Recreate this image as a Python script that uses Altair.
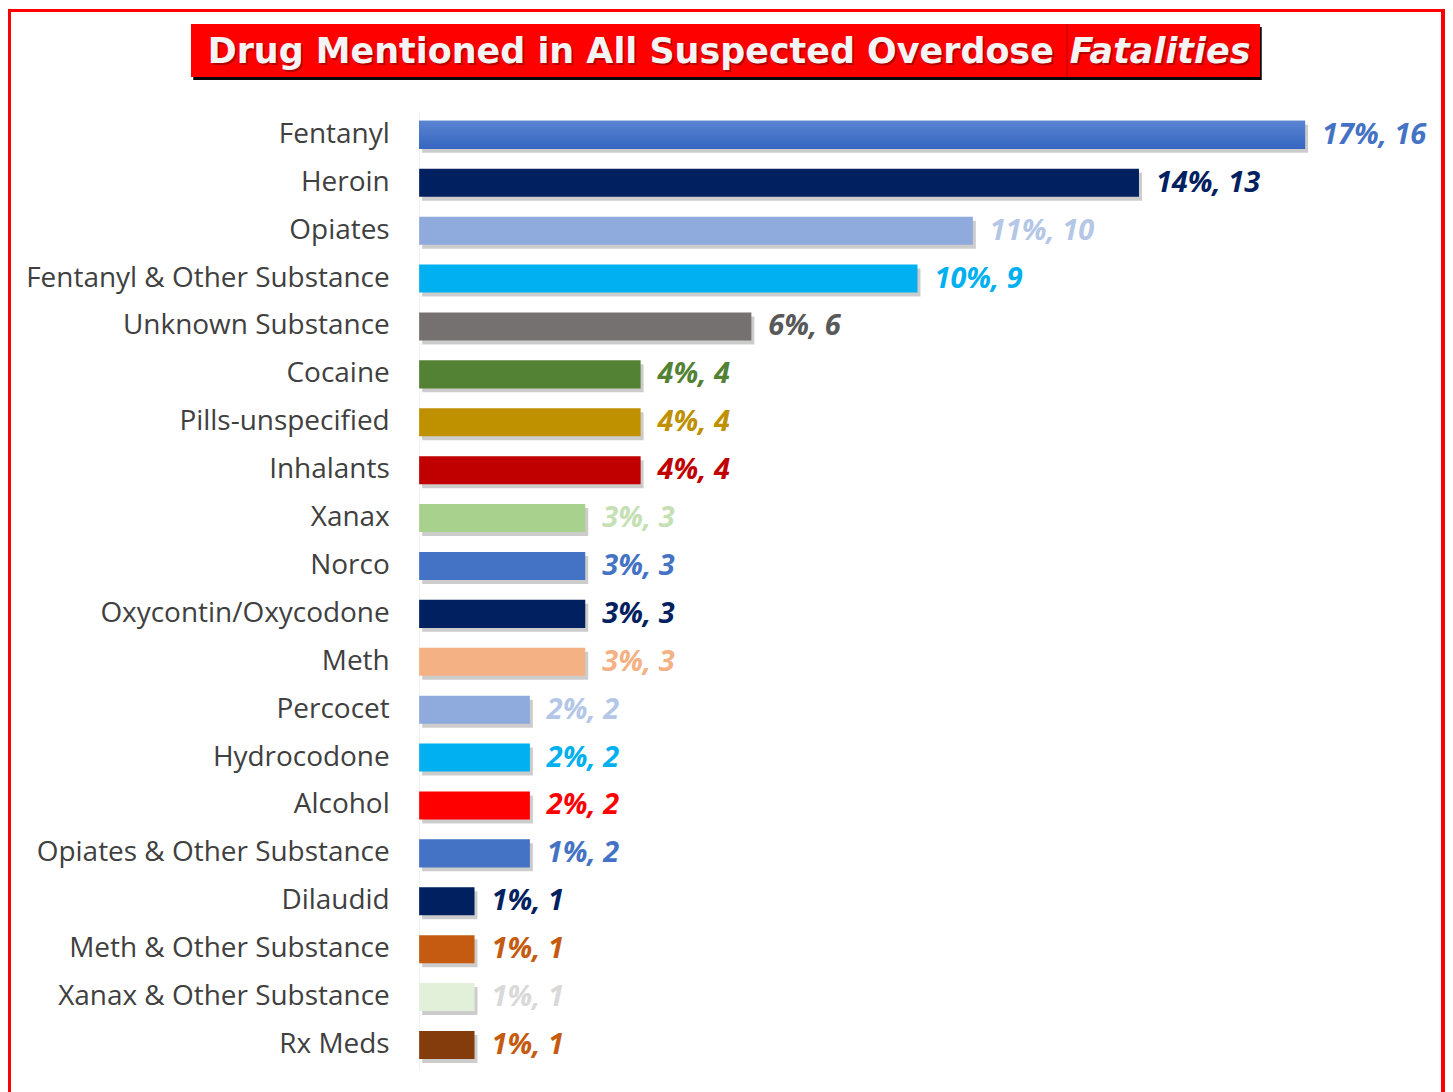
import altair as alt
import pandas as pd

categories = [
    "Fentanyl", "Heroin", "Opiates", "Fentanyl & Other Substance", "Unknown Substance",
    "Cocaine", "Pills-unspecified", "Inhalants", "Xanax", "Norco",
    "Oxycontin/Oxycodone", "Meth", "Percocet", "Hydrocodone", "Alcohol",
    "Opiates & Other Substance", "Dilaudid", "Meth & Other Substance",
    "Xanax & Other Substance", "Rx Meds",
]
counts = [16, 13, 10, 9, 6, 4, 4, 4, 3, 3, 3, 3, 2, 2, 2, 2, 1, 1, 1, 1]
percents = ["17%", "14%", "11%", "10%", "6%", "4%", "4%", "4%", "3%", "3%",
            "3%", "3%", "2%", "2%", "2%", "1%", "1%", "1%", "1%", "1%"]
bar_colors = [
    "#4472C4", "#002060", "#8FAADC", "#00B0F0", "#767171",
    "#548235", "#BF9000", "#C00000", "#A9D18E", "#4472C4",
    "#002060", "#F4B183", "#8FAADC", "#00B0F0", "#FF0000",
    "#4472C4", "#002060", "#C55A11", "#E2F0D9", "#843C0C",
]
label_colors = [
    "#4472C4", "#002060", "#B4C7E7", "#00B0F0", "#595959",
    "#548235", "#BF9000", "#C00000", "#C5E0B4", "#4472C4",
    "#002060", "#F4B183", "#B4C7E7", "#00B0F0", "#FF0000",
    "#4472C4", "#002060", "#C55A11", "#D9D9D9", "#C55A11",
]
title_main = "Drug Mentioned in All Suspected Overdose"
title_italic = "Fatalities"

df = pd.DataFrame({
    "cat": categories,
    "n": counts,
    "pct": percents,
    "barc": bar_colors,
    "labc": label_colors,
})
df["label"] = df["pct"] + ", " + df["n"].astype(str)

PL, PT = 412, 102          # padding: plot origin inside the svg
W, H = 996, 960
xs = alt.Scale(domain=[0, 17.95], nice=False)
ys = alt.Scale(domain=categories, paddingInner=0.415, paddingOuter=0.2075)

base = alt.Chart(df)

y_enc = alt.Y(
    "cat:N", sort=categories, scale=ys, title=None,
    axis=alt.Axis(
        labelFont="Open Sans", labelFontSize=28, labelColor="#404040",
        labelPadding=30, ticks=False, domain=True, domainColor="#F0F0F0",
        domainWidth=1, labelLimit=440,
    ),
)

shadow = base.mark_bar(color="#000000", opacity=0.2, xOffset=3, yOffset=4).encode(
    x=alt.X("n:Q", scale=xs, axis=None), y=y_enc
)
bars = base.mark_bar().encode(
    x=alt.X("n:Q", scale=xs, axis=None),
    y=y_enc,
    color=alt.Color("barc:N", scale=None),
)
grad_bar = base.transform_filter(alt.datum.cat == categories[0]).mark_bar(
    color=alt.Gradient(
        gradient="linear", x1=0, x2=0, y1=0, y2=1,
        stops=[alt.GradientStop(color="#5B84D2", offset=0),
               alt.GradientStop(color="#3566C0", offset=1)],
    )
).encode(x=alt.X("n:Q", scale=xs, axis=None), y=y_enc)

labels = base.mark_text(
    align="left", baseline="middle", dx=17, font="Open Sans", fontSize=29,
    fontStyle="italic", fontWeight="bold",
).encode(
    x=alt.X("n:Q", scale=xs, axis=None),
    y=y_enc,
    text="label:N",
    color=alt.Color("labc:N", scale=None),
)

# decorative frame and title box, placed in svg pixels relative to the plot origin
border = base.mark_rect(filled=False, stroke="#FF0000", strokeWidth=2.5).encode(
    x=alt.value(1.5 - PL), x2=alt.value(1438 - PL),
    y=alt.value(1.5 - PT), y2=alt.value(1100 - PT),
)
tshadow = base.mark_rect(color="#000000", opacity=0.16).encode(
    x=alt.value(186 - PL), x2=alt.value(1256 - PL), y=alt.value(18 - PT), y2=alt.value(71 - PT)
)
tbox = base.mark_rect(color="#FF0000").encode(
    x=alt.value(184 - PL), x2=alt.value(1254 - PL), y=alt.value(15 - PT), y2=alt.value(68 - PT)
)
tdiv = base.mark_rule(color="#D80000", strokeWidth=1).encode(
    x=alt.value(1061 - PL), y=alt.value(15 - PT), y2=alt.value(68 - PT)
)
title_df = pd.DataFrame({"t": [title_main]})
title_df2 = pd.DataFrame({"t": [title_italic]})
TY = 43 - PT
TS = 35
t1s = alt.Chart(title_df).mark_text(
    align="right", baseline="middle", font="DejaVu Sans", fontSize=TS,
    fontWeight="bold", color="#7a0000", opacity=0.55, dx=1.5, dy=2,
).encode(text="t:N", x=alt.value(1048 - PL), y=alt.value(TY))
t1 = alt.Chart(title_df).mark_text(
    align="right", baseline="middle", font="DejaVu Sans", fontSize=TS,
    fontWeight="bold", color="#F4F4F4",
).encode(text="t:N", x=alt.value(1048 - PL), y=alt.value(TY))
t2s = alt.Chart(title_df2).mark_text(
    align="left", baseline="middle", font="DejaVu Sans", fontSize=TS,
    fontWeight="bold", fontStyle="italic", color="#7a0000", opacity=0.55, dx=1.5, dy=2,
).encode(text="t:N", x=alt.value(1064 - PL), y=alt.value(TY))
t2 = alt.Chart(title_df2).mark_text(
    align="left", baseline="middle", font="DejaVu Sans", fontSize=TS,
    fontWeight="bold", fontStyle="italic", color="#F4F4F4",
).encode(text="t:N", x=alt.value(1064 - PL), y=alt.value(TY))

chart = alt.layer(
    border, tshadow, tbox, tdiv, t1s, t1, t2s, t2, shadow, bars, grad_bar, labels
).properties(
    width=W, height=H,
    autosize=alt.AutoSizeParams(type="none"),
    padding={"left": PL, "top": PT, "right": 1440 - PL - W, "bottom": 1084 - PT - H},
).configure_view(stroke="transparent", strokeWidth=0)

chart.save("out.html", embed_options={"renderer": "svg", "actions": False})
